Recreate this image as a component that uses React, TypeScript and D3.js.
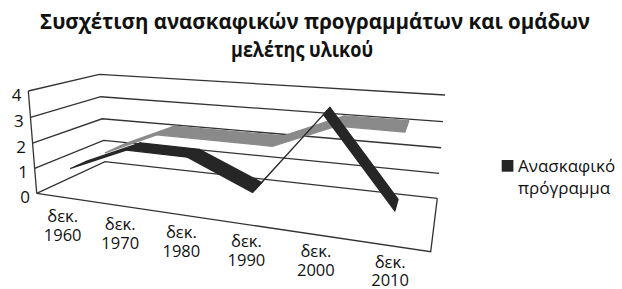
import React from "react";
import * as d3 from "d3";

// ---- data ----
const categoryPrefix = ["δεκ.", "δεκ.", "δεκ.", "δεκ.", "δεκ.", "δεκ."];
const categoryYears = ["1960", "1970", "1980", "1990", "2000", "2010"];
const seriesNames = ["Ανασκαφικό πρόγραμμα", "Ομάδες μελέτης υλικού"];
const excavationValues = [1, 2, 2, 1, 4, 1];
const studyGroupValues = [1, 2, 2, 2, 3, 3];
const valueTicks = [0, 1, 2, 3, 4];
const titleLines = ["Συσχέτιση ανασκαφικών προγραμμάτων και ομάδων", "μελέτης υλικού"];
const legendLines = ["Ανασκαφικό", "πρόγραμμα"];

// ---- projection anchors (box corners on screen) ----
type P = [number, number];
const FL0: P = [36.7, 193.3], FR0: P = [430.7, 251.7], FR4: P = [439, 129.5], FL4: P = [28.3, 91];
const BL0: P = [105, 161.7], BR0: P = [437.3, 198.3], BR4: P = [445, 95], BL4: P = [99.3, 74.3];
const depthRatio = 0.85;

function homography(p0: P, p1: P, p2: P, p3: P) {
  const [x0, y0] = p0, [x1, y1] = p1, [x2, y2] = p2, [x3, y3] = p3;
  const dx1 = x1 - x2, dx2 = x3 - x2, dx3 = x0 - x1 + x2 - x3;
  const dy1 = y1 - y2, dy2 = y3 - y2, dy3 = y0 - y1 + y2 - y3;
  const den = dx1 * dy2 - dx2 * dy1;
  const g = (dx3 * dy2 - dx2 * dy3) / den;
  const h = (dx1 * dy3 - dx3 * dy1) / den;
  const a = x1 - x0 + g * x1, b = x3 - x0 + h * x3, c = x0;
  const d = y1 - y0 + g * y1, e = y3 - y0 + h * y3, f = y0;
  return (u: number, v: number): P => {
    const w = g * u + h * v + 1;
    return [(a * u + b * v + c) / w, (d * u + e * v + f) / w];
  };
}
const frontPlane = homography(FL0, FR0, FR4, FL4);
const backPlane = homography(BL0, BR0, BR4, BL4);

const uScale = d3.scaleBand<string>().domain(categoryYears).range([0, 1]).padding(0);
const vScale = d3.scaleLinear().domain([0, 4]).range([0, 1]);
const wScale = d3.scaleBand<string>().domain(seriesNames).range([0.145, 0.965]).paddingInner(0.51);

function project(u: number, value: number, w: number): P {
  const t = vScale(value);
  const F = frontPlane(u, t);
  const B = backPlane(u, t);
  const bw = (w * depthRatio) / (1 - w + w * depthRatio);
  return [F[0] + bw * (B[0] - F[0]), F[1] + bw * (B[1] - F[1])];
}
const uc = (c: string) => (uScale(c) as number) + uScale.bandwidth() / 2;

const poly = d3.line<P>().curve(d3.curveLinearClosed);
const seg = d3.line<P>();

function ribbon(values: number[], name: string) {
  const w1 = wScale(name) as number;
  const w2 = w1 + wScale.bandwidth();
  const out: string[] = [];
  for (let i = 0; i < values.length - 1; i++) {
    const ua = uc(categoryYears[i]), ub = uc(categoryYears[i + 1]);
    out.push(
      poly([
        project(ua, values[i], w1),
        project(ub, values[i + 1], w1),
        project(ub, values[i + 1], w2),
        project(ua, values[i], w2),
      ]) as string
    );
  }
  return out;
}

export default function App() {
  const gridColor = "#333";
  const font = "'Open Sans', 'Noto Sans', sans-serif";
  const series = [
    { name: seriesNames[1], values: studyGroupValues, color: "#8a8a8a" },
    { name: seriesNames[0], values: excavationValues, color: "#262626" },
  ];
  return (
    <svg width={622} height={289} style={{ position: "absolute", left: 0, top: 0, background: "#fff" }}>
      <rect width={622} height={289} fill="#fff" />
      {/* title */}
      <text x={40} y={28.5} fontFamily={font} fontWeight="bold" fontSize={21.5} textLength={550} lengthAdjust="spacingAndGlyphs" fill="#111">
        {titleLines[0]}
      </text>
      <text x={231} y={57} fontFamily={font} fontWeight="bold" fontSize={21.5} textLength={142} lengthAdjust="spacingAndGlyphs" fill="#111">
        {titleLines[1]}
      </text>

      {/* walls gridlines */}
      {valueTicks.map((v) => (
        <path
          key={"g" + v}
          d={seg([project(0, v, 0), project(0, v, 1), project(1, v, 1)]) as string}
          fill="none"
          stroke={gridColor}
          strokeWidth={1.3}
        />
      ))}
      {/* vertical axis */}
      <path d={seg([project(0, 0, 0), project(0, 4, 0)]) as string} stroke={gridColor} strokeWidth={1.3} fill="none" />
      {/* floor front and right edges */}
      <path d={seg([project(0, 0, 0), project(1, 0, 0), project(1, 0, 1)]) as string} stroke={gridColor} strokeWidth={1.3} fill="none" />

      {/* value labels */}
      {valueTicks.map((v) => {
        const [x, y] = project(0, v, 0);
        return (
          <text key={"v" + v} x={x - 6.7} y={y + 9.5} textAnchor="end" fontFamily={font} fontSize={17} fill="#111">
            {v}
          </text>
        );
      })}

      {/* category labels */}
      {categoryYears.map((c, i) => {
        const [x, y] = project(uc(c), 0, 0);
        const b1 = y + 24.6 - 0.6 * i;
        return (
          <text key={"c" + c} x={x - 1.5} y={b1} textAnchor="middle" fontFamily={font} fontSize={16.5} fill="#111">
            <tspan x={x - 1.5} y={b1}>{categoryPrefix[i]}</tspan>
            <tspan x={x - 1.5} y={b1 + 18.8}>{c}</tspan>
          </text>
        );
      })}

      {/* ribbons */}
      {series.map((s) =>
        ribbon(s.values, s.name).map((d, i) => (
          <path key={s.name + i} d={d} fill={s.color} stroke={s.color} strokeWidth={1.3} strokeLinejoin="round" />
        ))
      )}

      {/* legend */}
      <rect x={501.7} y={160} width={11.7} height={11.7} fill="#262626" />
      <text x={518} y={172} fontFamily={font} fontSize={17} fill="#111">
        <tspan x={518} y={172}>{legendLines[0]}</tspan>
        <tspan x={518} y={193.5}>{legendLines[1]}</tspan>
      </text>
    </svg>
  );
}
